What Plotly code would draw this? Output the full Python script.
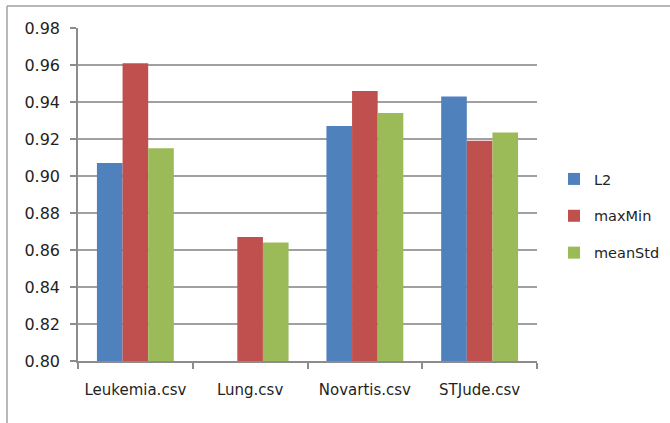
import plotly.graph_objects as go

datasets = ["Leukemia.csv", "Lung.csv", "Novartis.csv", "STJude.csv"]
l2 = [0.907, None, 0.927, 0.943]
max_min = [0.961, 0.867, 0.946, 0.919]
mean_std = [0.915, 0.864, 0.934, 0.9235]

series = [
    ("L2", l2, "#4F81BD"),
    ("maxMin", max_min, "#C0504D"),
    ("meanStd", mean_std, "#9BBB59"),
]

FONT = "'DejaVu Sans', sans-serif"
TEXT = "#1f1f1f"

fig = go.Figure()
for name, vals, color in series:
    fig.add_trace(go.Bar(
        x=datasets, y=vals, name=name, legendgroup=name,
        marker=dict(color=color, line=dict(width=0)),
    ))

# plot area spans 78..537 px horizontally and 28..361 px vertically
W, H = 670, 423
L, R, T, B = 78, 133, 28, 62
pw, ph = W - L - R, H - T - B

def px_x(px):
    return (px - L) / pw

def px_y(py):
    return (H - B - py) / ph

fig.update_layout(
    width=W, height=H,
    margin=dict(l=L, r=R, t=T, b=B, autoexpand=False),
    paper_bgcolor="white", plot_bgcolor="white",
    barmode="group", bargap=0.33, bargroupgap=0,
    font=dict(family=FONT, size=15, color=TEXT),
    showlegend=True,
    legend=dict(
        x=px_x(554), y=px_y(216), xanchor="left", yanchor="middle",
        font=dict(family=FONT, size=14.5, color=TEXT),
        traceorder="grouped", tracegroupgap=15,
        itemwidth=30, bgcolor="rgba(0,0,0,0)",
    ),
    xaxis=dict(
        showgrid=False, showline=True, linecolor="#8c8c8c", linewidth=1.5,
        ticks="outside", tickson="boundaries", ticklen=6, tickcolor="#8c8c8c",
        tickwidth=1.5, ticklabelstandoff=14, tickangle=0,
        tickfont=dict(family=FONT, size=15, color=TEXT),
    ),
    yaxis=dict(
        range=[0.80, 0.98], dtick=0.02, tickformat=".2f",
        showgrid=True, gridcolor="#a0a0a0", gridwidth=1.6,
        showline=True, linecolor="#8c8c8c", linewidth=1.5,
        ticks="outside", ticklen=6, tickcolor="#8c8c8c", tickwidth=1.5,
        ticklabelstandoff=7, zeroline=False,
        tickfont=dict(family=FONT, size=16, color=TEXT),
    ),
    shapes=[
        dict(type="line", xref="paper", yref="paper",
             x0=px_x(7), x1=px_x(7), y0=px_y(6), y1=px_y(W),
             line=dict(color="#a0a0a0", width=1.5)),
        dict(type="line", xref="paper", yref="paper",
             x0=px_x(7), x1=px_x(W + 5), y0=px_y(6), y1=px_y(6),
             line=dict(color="#a0a0a0", width=1.5)),
    ],
)

fig.write_html("out.html")
